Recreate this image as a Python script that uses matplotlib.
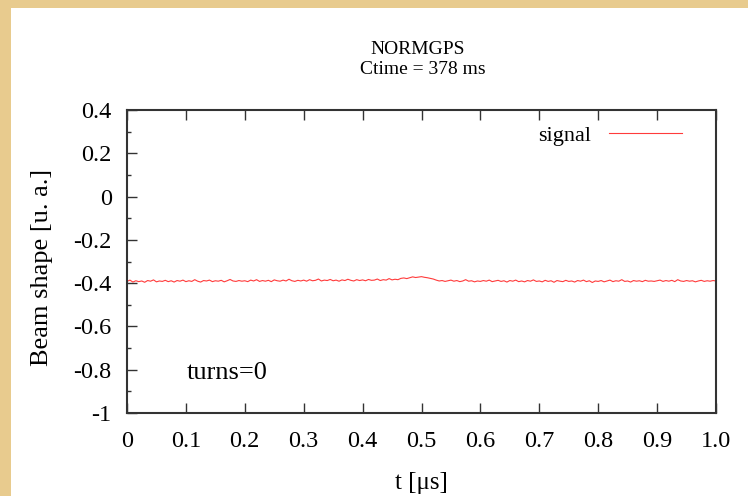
import numpy as np
import matplotlib
matplotlib.use("Agg")
import matplotlib.pyplot as plt
from matplotlib.patches import Rectangle
from matplotlib.ticker import MultipleLocator

plt.rcParams['font.family'] = ['Liberation Serif', 'DejaVu Serif']

# beam signal, sampled every 0.005 us from 0 to 1.0 us
signal = [
    -0.392, -0.386, -0.395, -0.389, -0.393, -0.390, -0.396, -0.388, -0.391, -0.385,
    -0.394, -0.390, -0.392, -0.387, -0.393, -0.389, -0.395, -0.388, -0.391, -0.386,
    -0.393, -0.389, -0.392, -0.384, -0.391, -0.395, -0.388, -0.390, -0.386, -0.393,
    -0.389, -0.391, -0.387, -0.394, -0.389, -0.383, -0.390, -0.392, -0.388, -0.391,
    -0.389, -0.393, -0.386, -0.390, -0.384, -0.392, -0.388, -0.391, -0.387, -0.393,
    -0.385, -0.389, -0.391, -0.386, -0.390, -0.382, -0.389, -0.392, -0.387, -0.390,
    -0.386, -0.391, -0.384, -0.389, -0.387, -0.381, -0.390, -0.386, -0.388, -0.383,
    -0.389, -0.386, -0.391, -0.385, -0.388, -0.382, -0.387, -0.390, -0.384, -0.388,
    -0.385, -0.389, -0.383, -0.387, -0.386, -0.381, -0.388, -0.384, -0.386, -0.379,
    -0.385, -0.382, -0.384, -0.378, -0.376, -0.379, -0.375, -0.371, -0.374, -0.372,
    -0.370, -0.373, -0.375, -0.378, -0.381, -0.386, -0.390, -0.388, -0.392, -0.389,
    -0.386, -0.391, -0.388, -0.393, -0.390, -0.384, -0.391, -0.389, -0.394, -0.390,
    -0.392, -0.388, -0.391, -0.386, -0.393, -0.390, -0.387, -0.392, -0.389, -0.395,
    -0.388, -0.391, -0.386, -0.393, -0.390, -0.394, -0.388, -0.391, -0.385, -0.392,
    -0.390, -0.394, -0.387, -0.392, -0.389, -0.396, -0.388, -0.391, -0.393, -0.387,
    -0.392, -0.390, -0.395, -0.388, -0.391, -0.386, -0.393, -0.389, -0.397, -0.390,
    -0.392, -0.388, -0.394, -0.390, -0.386, -0.393, -0.389, -0.391, -0.384, -0.392,
    -0.390, -0.395, -0.388, -0.391, -0.389, -0.393, -0.387, -0.391, -0.390, -0.392,
    -0.389, -0.386, -0.392, -0.388, -0.391, -0.387, -0.393, -0.384, -0.390, -0.392,
    -0.388, -0.391, -0.389, -0.394, -0.390, -0.387, -0.392, -0.389, -0.391, -0.388,
    -0.390,
]
t_step = 0.005
t = np.arange(len(signal)) * t_step

xticks = [0, 0.1, 0.2, 0.3, 0.4, 0.5, 0.6, 0.7, 0.8, 0.9, 1.0]
xticklabels = ["0", "0.1", "0.2", "0.3", "0.4", "0.5", "0.6", "0.7", "0.8", "0.9", "1.0"]
yticks = [-1, -0.8, -0.6, -0.4, -0.2, 0, 0.2, 0.4]
yticklabels = ["-1", "-0.8", "-0.6", "-0.4", "-0.2", "0", "0.2", "0.4"]

W, H = 748, 496
fig = plt.figure(figsize=(W / 100, H / 100), dpi=100, facecolor='#e8cb8e')
# white panel on the parchment background
fig.patches.append(Rectangle((11 / W, 0), 1, 1 - 8 / H, transform=fig.transFigure,
                             facecolor='white', edgecolor='none', zorder=-5))

ax = fig.add_axes([127 / W, (H - 413) / H, (716 - 127) / W, (413 - 110) / H])
ax.set_zorder(2)
ax.set_facecolor('white')
ax.plot(t, signal, color='#ff3b3b', lw=0.8, label='signal')

ax.set_xlim(0, 1.0)
ax.set_ylim(-1, 0.4)
ax.set_xticks(xticks)
ax.set_xticklabels(xticklabels)
ax.set_yticks(yticks)
ax.set_yticklabels(yticklabels)
ax.yaxis.set_minor_locator(MultipleLocator(0.1))
ax.tick_params(axis='x', which='major', direction='in', top=True, bottom=True,
               length=7, width=1, color='#333333', labelsize=17.5, pad=13)
ax.tick_params(axis='y', which='major', direction='in', left=True, right=False,
               length=7, width=1, color='#333333', labelsize=17.5, pad=11)
ax.tick_params(axis='y', which='minor', direction='in', left=True, right=False,
               length=3, width=1, color='#333333')
for s in ax.spines.values():
    s.set_color('#333333')
    s.set_linewidth(1.5)

ax.set_xlabel("t [\u03bcs]", fontsize=18, labelpad=14)
ax.set_ylabel("Beam shape [u. a.]", fontsize=19)
ax.yaxis.set_label_coords(-0.126, 0.48)

ax.text(0.102, 0.132, "turns=0", transform=ax.transAxes, fontsize=19, va='center')

leg = ax.legend(loc='upper right', frameon=False, fontsize=16, markerfirst=False,
                handlelength=3.3, borderaxespad=0.3, bbox_to_anchor=(0.969, 1.0))

fig.text(418 / W, 1 - 50 / H, "NORMGPS", ha='center', va='center', fontsize=14)
fig.text(423 / W, 1 - 70 / H, "Ctime = 378 ms", ha='center', va='center', fontsize=14)

fig.savefig("out.png", dpi=100, facecolor=fig.get_facecolor())
